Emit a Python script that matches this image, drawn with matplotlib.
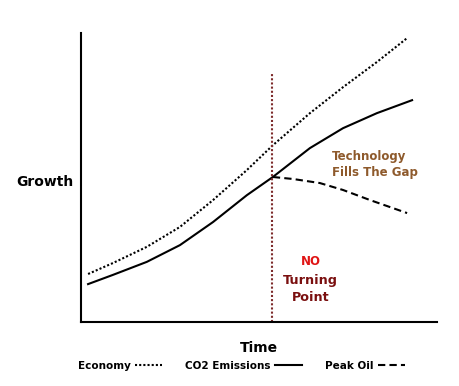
import matplotlib
matplotlib.use("Agg")
import matplotlib.pyplot as plt

# values (time / growth, arbitrary units 0-100)
economy_t = [2.0, 9.0, 18.5, 27.8, 37.1, 46.6, 53.9, 64.3, 73.6, 83.1, 91.6]
economy_g = [16.6, 20.4, 26.0, 32.9, 42.2, 52.6, 61.2, 72.3, 81.3, 90.0, 98.3]

co2_t = [2.0, 9.0, 18.5, 27.8, 37.1, 46.6, 53.9, 64.3, 73.6, 83.1, 93.0]
co2_g = [13.1, 16.3, 20.8, 26.6, 34.6, 43.9, 50.2, 60.2, 67.1, 72.3, 76.8]

oil_t = [53.9, 59.6, 67.1, 73.6, 81.2, 91.6]
oil_g = [50.2, 49.5, 48.1, 45.7, 42.2, 37.7]

turning_t = 53.7
turning_top = 86.5

fig = plt.figure(figsize=(4.6, 3.86), dpi=100)
ax = fig.add_axes([0.176, 0.166, 0.774, 0.748])
ax.set_xlim(0, 100)
ax.set_ylim(0, 100)

ax.plot(economy_t, economy_g, color="black", lw=1.5, ls=(0, (1, 1)), label="Economy")
ax.plot(co2_t, co2_g, color="black", lw=1.5, label="CO2 Emissions")
ax.plot(oil_t, oil_g, color="black", lw=1.5, ls=(0, (3.5, 2)), label="Peak Oil")
ax.plot([turning_t, turning_t], [0, turning_top], color="#7d2b2b", lw=1.5, ls=(0, (1, 1)))

ax.spines["top"].set_visible(False)
ax.spines["right"].set_visible(False)
ax.spines["left"].set_linewidth(1.5)
ax.spines["bottom"].set_linewidth(1.5)
ax.set_xticks([])
ax.set_yticks([])

ax.set_ylabel("Growth", rotation=0, fontsize=10, fontweight="bold", ha="center", va="center")
ax.yaxis.set_label_coords(-0.101, 0.485)
ax.set_xlabel("Time", fontsize=10, fontweight="bold", labelpad=14)

ax.text(70.5, 54.5, "Technology\nFills The Gap", color="#8e5a2c", fontsize=8.5,
        fontweight="bold", ha="left", va="center", linespacing=1.35)
ax.text(64.5, 20.8, "NO", color="#e01515", fontsize=8.5, fontweight="bold", ha="center", va="center")
ax.text(64.5, 11.3, "Turning\nPoint", color="#7a0f0f", fontsize=9.2, fontweight="bold",
        ha="center", va="center", linespacing=1.4)

leg = fig.legend(loc="center", bbox_to_anchor=(0.525, 0.052), ncol=3, frameon=False,
                 markerfirst=False, handlelength=2.6, handletextpad=0.4,
                 columnspacing=2.2, prop={"weight": "bold", "size": 7.5})

fig.savefig("out.png", dpi=100)
